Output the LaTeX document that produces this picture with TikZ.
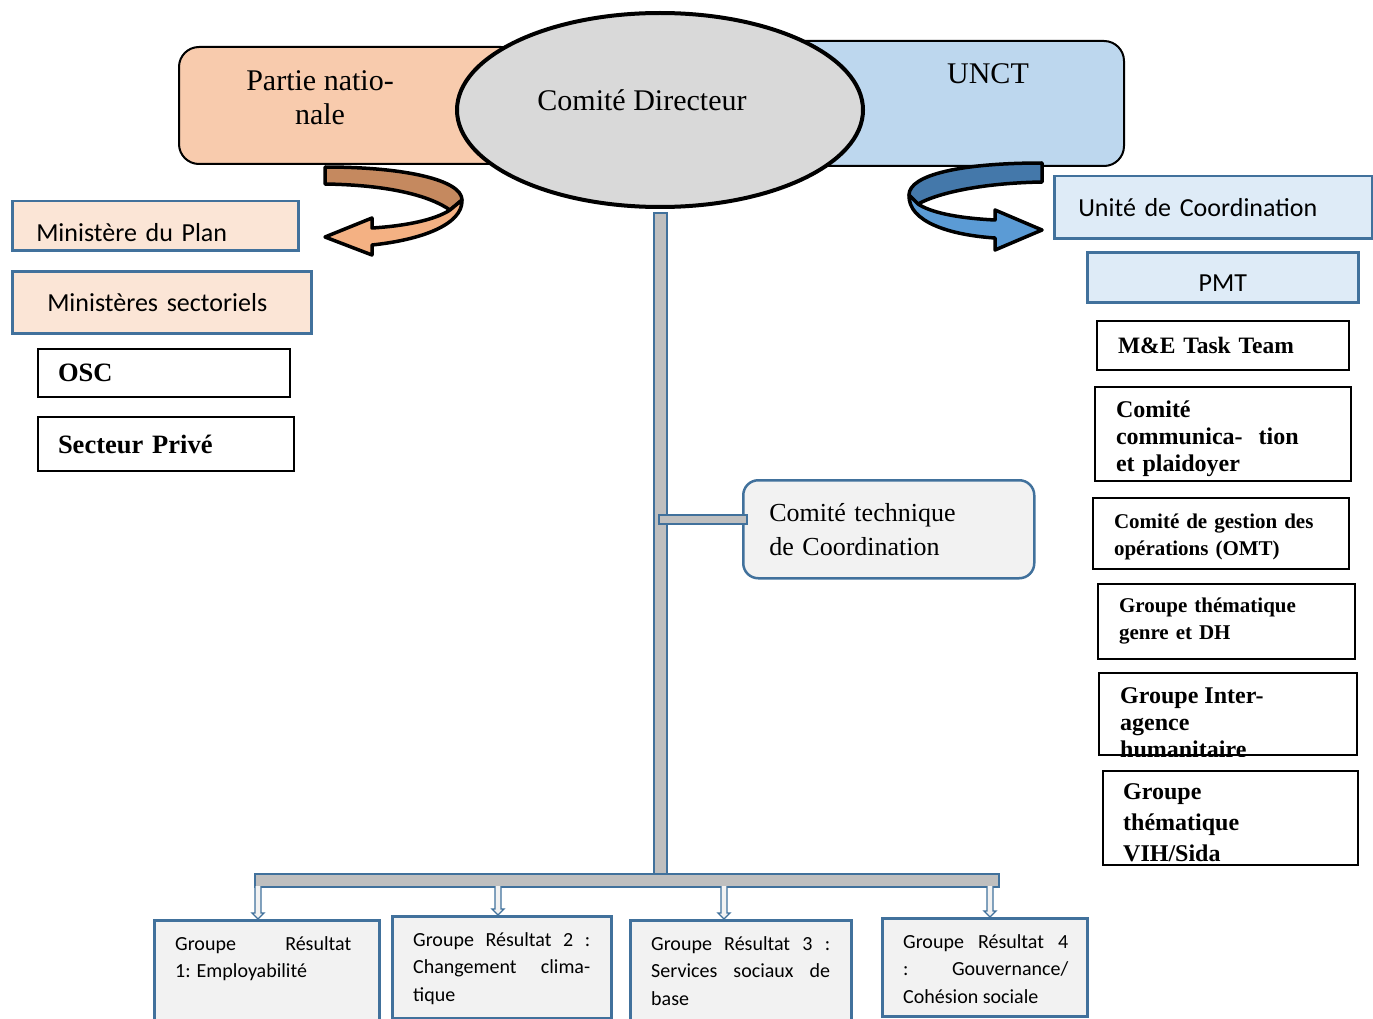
\documentclass[tikz,border=0pt]{standalone}
\usepackage{fontspec}
\setmainfont{Liberation Serif}
\newfontfamily\calfont{Carlito}
\usetikzlibrary{shapes.geometric,calc}
\definecolor{peach}{HTML}{F8CBAD}
\definecolor{paleblue}{HTML}{BDD7EE}
\definecolor{greyell}{HTML}{D9D9D9}
\definecolor{lightpeach}{HTML}{FBE5D6}
\definecolor{lightblue}{HTML}{DEEBF7}
\definecolor{boxgrey}{HTML}{F2F2F2}
\definecolor{edgeblue}{HTML}{41719C}
\definecolor{barfill}{HTML}{BFBFBF}
\definecolor{darkorange}{HTML}{C5895F}
\definecolor{lightorange}{HTML}{F4B183}
\definecolor{darkblue}{HTML}{4478AA}
\definecolor{midblue}{HTML}{5B9BD5}
\tikzset{
  pbox/.style={draw=edgeblue,line width=2.5pt,anchor=north west,inner ysep=0pt,align=left},
  kbox/.style={draw=black,line width=2pt,anchor=north west,inner ysep=0pt,align=left},
  gbox/.style={draw=edgeblue,line width=2.5pt,fill=boxgrey,anchor=north west,inner sep=0pt},
  gtxt/.style={anchor=north west,inner sep=0pt,align=justify,
    font=\calfont\fontsize{20}{27.5}\selectfont},
  bar/.style={draw=edgeblue,fill=barfill,line width=2pt,inner sep=0pt},
  ribbon/.style={draw=black,line width=3.5pt,line join=round},
  tipline/.style={draw=edgeblue,fill=boxgrey,line width=1.3pt,line join=miter},
  calbig/.style={font=\calfont\fontsize{26}{30}\selectfont},
  bigtxt/.style={font=\fontsize{30}{34}\selectfont,align=center}
}
\begin{document}
\begin{tikzpicture}[x=1pt,y=-1pt]
\useasboundingbox (0,0) rectangle (1373,1019);

\node[draw,line width=2pt,rounded corners=20pt,fill=peach,anchor=north west,
  minimum width=342pt,minimum height=117pt] (pn) at (178,46) {};
\node[draw,line width=2pt,rounded corners=20pt,fill=paleblue,anchor=north west,
  minimum width=342pt,minimum height=125pt] (unct) at (781,40) {};
\node[bigtxt] (pnlbl) at (320,97.5) {Partie natio-\\nale};
\node[bigtxt] (unctlbl) at (988,74) {UNCT};
\node[ellipse,draw,line width=4pt,fill=greyell,inner sep=0pt,
  minimum width=406pt,minimum height=194pt] (cd) at (660,110) {};
\node[bigtxt] (cdlbl) at (642,100) {Comité Directeur};

\draw[ribbon,fill=darkorange] (325,167) .. controls (405,167) and (462,180) .. (462,200)
  -- (450,210) .. controls (430,196) and (390,185) .. (325,184) -- cycle;
\draw[ribbon,fill=lightorange] (462,200) .. controls (463,225) and (420,240) .. (372,245)
  -- (372,255) -- (325,237) -- (372,218) -- (372,228)
  .. controls (405,226) and (435,220) .. (450,210) -- cycle;
\draw[ribbon,fill=darkblue] (1042,163) .. controls (960,163) and (909,175) .. (909,195)
  -- (918,204) .. controls (940,192) and (985,183) .. (1042,182) -- cycle;
\draw[ribbon,fill=midblue] (909,195) .. controls (908,222) and (950,235) .. (995,238)
  -- (995,250) -- (1042,230) -- (995,210) -- (995,220)
  .. controls (955,218) and (930,212) .. (918,204) -- cycle;

\node[pbox,fill=lightpeach,calbig,minimum width=286pt,minimum height=49pt,
  inner xsep=24pt,text width=238pt,text height=31.5pt,text depth=0pt] (plan) at (11,200) {Ministère du Plan};
\node[pbox,fill=lightpeach,calbig,minimum width=299pt,minimum height=62pt,
  inner xsep=35pt,text width=229pt] (secto) at (11,270) {Ministères sectoriels};
\node[kbox,font=\bfseries\fontsize{26.5}{30}\selectfont,minimum width=252pt,
  minimum height=48pt,inner xsep=20pt,text width=212pt] (osc) at (37,348) {OSC};
\node[kbox,font=\bfseries\fontsize{26.5}{30}\selectfont,minimum width=256pt,
  minimum height=54pt,inner xsep=20pt,text width=216pt] (prive) at (37,416) {Secteur Privé};

\node[pbox,fill=lightblue,calbig,minimum width=318pt,minimum height=62pt,
  inner xsep=24pt,text width=270pt] (unite) at (1053,175) {Unité de Coordination};
\node[pbox,fill=lightblue,calbig,minimum width=271pt,minimum height=50pt,
  align=center,text height=29pt,text depth=0pt] (pmt) at (1086,251) {PMT};
\node[kbox,font=\bfseries\fontsize{23.5}{27}\selectfont,minimum width=252pt,
  minimum height=49pt,inner xsep=21pt,text width=210pt] (metask) at (1096,320) {M\&E Task Team};
\node[kbox,font=\bfseries\fontsize{24}{27}\selectfont,minimum width=256pt,
  minimum height=94pt,inner xsep=21pt,text width=214pt,text height=27pt] (comm) at (1094,386)
  {Comité\\communica-\ \ tion\\et plaidoyer};
\node[kbox,font=\bfseries\fontsize{21}{27}\selectfont,minimum width=256pt,
  minimum height=71pt,inner xsep=21pt,text width=214pt,text height=20.5pt] (omt) at (1092,497)
  {Comité de gestion des\\opérations (OMT)};
\node[kbox,font=\bfseries\fontsize{21}{27}\selectfont,minimum width=257pt,
  minimum height=75pt,inner xsep=21pt,text width=215pt] (genre) at (1097,583)
  {Groupe thématique\\genre et DH};
\node[kbox,minimum width=258pt,minimum height=82pt] (inter) at (1098,672) {};
\begin{scope}
\clip (inter.north west) rectangle (inter.south east);
\node[anchor=north west,inner sep=0pt,align=left,font=\bfseries\fontsize{24}{27}\selectfont]
  (intertxt) at ($(inter.north west)+(22,15.5)$) {Groupe Inter-\\agence\\humanitaire};
\end{scope}
\node[kbox,minimum width=255pt,minimum height=94pt] (vih) at (1102,770) {};
\begin{scope}
\clip (vih.north west) rectangle (vih.south east);
\node[anchor=north west,inner sep=0pt,align=left,font=\bfseries\fontsize{24}{31}\selectfont]
  (vihtxt) at ($(vih.north west)+(21,13.5)$) {Groupe\\thématique\\VIH/Sida};
\end{scope}

\node[bar,anchor=north,minimum width=13pt,minimum height=663pt] (vbar) at (660.5,212) {};
\node[bar,anchor=north west,minimum width=744pt,minimum height=13pt] (hbar) at (254,873) {};
\node[draw=edgeblue,line width=2.5pt,fill=boxgrey,rounded corners=15pt,anchor=north west,
  minimum width=291pt,minimum height=98pt,inner xsep=26pt,text width=239pt,align=left,
  font=\fontsize{26}{34}\selectfont] (ct) at (742,479) {Comité technique\\de Coordination};
\node[bar,anchor=west,minimum width=88pt,minimum height=9pt] (stub) at (658,519.5) {};

\node[gbox,minimum width=225pt,minimum height=115pt] (gr1) at (153,919) {};
\node[gbox,minimum width=219pt,minimum height=102pt] (gr2) at (391,915) {};
\node[gbox,minimum width=221pt,minimum height=110pt] (gr3) at (629,919) {};
\node[gbox,minimum width=205pt,minimum height=98pt] (gr4) at (881,917) {};
\node[gtxt,text width=176pt] (gr1txt) at ($(gr1.north west)+(22,17)$)
  {Groupe Résultat\linebreak 1: Employabilité};
\node[gtxt,text width=177pt] (gr2txt) at ($(gr2.north west)+(22,17)$)
  {Groupe Résultat 2 :\linebreak Changement clima-\linebreak tique};
\node[gtxt,text width=179pt] (gr3txt) at ($(gr3.north west)+(22,17)$)
  {Groupe Résultat 3 :\linebreak Services sociaux de\linebreak base};
\node[gtxt,text width=165pt] (gr4txt) at ($(gr4.north west)+(22,17)$)
  {Groupe Résultat 4\linebreak : Gouvernance/\linebreak Cohésion sociale};

\foreach \i/\x in {1/258,2/498,3/724,4/990}{
  \coordinate (t\i) at (\x,886);
  \coordinate (b\i) at (t\i |- gr\i.north);
  \draw[tipline] ($(t\i)+(-3,0)$) -- ($(b\i)+(-3,-6)$) -- ($(b\i)+(-6,-6)$) -- (b\i)
    -- ($(b\i)+(6,-6)$) -- ($(b\i)+(3,-6)$) -- ($(t\i)+(3,0)$);
}
\end{tikzpicture}
\end{document}
